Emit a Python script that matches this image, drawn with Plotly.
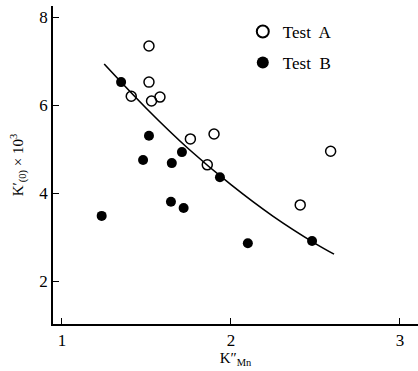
import plotly.graph_objects as go

# Test A (open circles)
a_x = [1.41, 1.515, 1.515, 1.53, 1.58, 1.76, 1.90, 1.86, 2.41, 2.59]
a_y = [6.20, 7.34, 6.52, 6.09, 6.18, 5.23, 5.34, 4.64, 3.73, 4.95]

# Test B (filled circles)
b_x = [1.35, 1.515, 1.48, 1.71, 1.65, 1.935, 1.235, 1.645, 1.72, 2.10, 2.48]
b_y = [6.52, 5.30, 4.75, 4.93, 4.68, 4.36, 3.48, 3.80, 3.66, 2.86, 2.91]

# Trend curve
fit_x = [1.25, 1.5, 1.75, 2.0, 2.25, 2.5, 2.61]
fit_y = [6.93, 5.92, 5.00, 4.19, 3.47, 2.85, 2.61]

x_ticks = [1, 2, 3]
y_ticks = [2, 4, 6, 8]

FONT = "'Liberation Serif', 'Times New Roman', serif"

fig = go.Figure()
fig.add_trace(go.Scatter(x=fit_x, y=fit_y, mode="lines", line=dict(color="black", width=1.6, shape="spline"),
                         showlegend=False, hoverinfo="skip"))
fig.add_trace(go.Scatter(x=a_x, y=a_y, mode="markers", name="Test  A", legendgroup="a",
                         marker=dict(symbol="circle-open", size=10, color="black", line=dict(width=1.5))))
fig.add_trace(go.Scatter(x=b_x, y=b_y, mode="markers", name="Test  B", legendgroup="b",
                         marker=dict(symbol="circle", size=10, color="black")))

fig.update_layout(
    width=418, height=371,
    margin=dict(l=53, r=0, t=6, b=47),
    paper_bgcolor="white", plot_bgcolor="white",
    font=dict(family=FONT, size=15, color="black"),
    legend=dict(x=0.52, y=0.975, xanchor="left", yanchor="top", bgcolor="rgba(0,0,0,0)",
                font=dict(family=FONT, size=17), itemsizing="constant", tracegroupgap=6),
    xaxis=dict(range=[0.947, 3.107], tickvals=x_ticks, ticks="inside", ticklen=6, tickcolor="black",
               showline=True, linecolor="black", linewidth=1.5, showgrid=False, zeroline=False,
               tickfont=dict(family=FONT, size=17),
               title=dict(text="K″<sub>Mn</sub>", font=dict(family=FONT, size=15), standoff=2)),
    yaxis=dict(range=[1.023, 8.25], tickvals=y_ticks, ticks="inside", ticklen=6, tickcolor="black",
               showline=True, linecolor="black", linewidth=1.5, showgrid=False, zeroline=False,
               tickfont=dict(family=FONT, size=17),
               title=dict(text="K′<sub>(0)</sub> × 10<sup>3</sup>", font=dict(family=FONT, size=15), standoff=12)),
)

fig.write_html("out.html")
